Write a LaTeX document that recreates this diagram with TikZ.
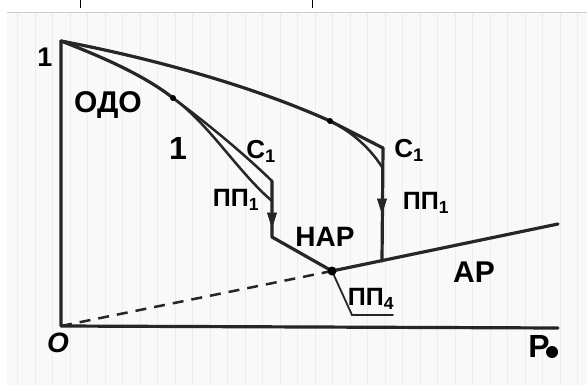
\documentclass[tikz,border=0pt]{standalone}
\usepackage{fontspec}
\setmainfont{Liberation Sans}
\usetikzlibrary{arrows.meta}
\tikzset{
  thickline/.style={line width=3.2pt, line cap=round, line join=round, black!85},
  midline/.style={line width=2.5pt, line cap=round, line join=round, black!85},
  thinline/.style={line width=1.8pt, line cap=round, black!85},
  lbl/.style={inner sep=0pt, font=\bfseries\fontsize{#1}{#1}\selectfont},
  lbl/.default=22,
  dot/.style={circle, fill=black, inner sep=0pt, minimum size=#1},
  tipfill/.style={fill=black!85, draw=black!85, line width=0.8pt, line join=round},
}
\begin{document}
\begin{tikzpicture}[x=1pt,y=-1pt]
\useasboundingbox (0,0) rectangle (587,385);
% background paper
\fill[white] (0,0) rectangle (587,385);
\fill[gray!5] (7,12) rectangle (587,385);
\draw[gray!14, line width=0.3pt] (7,12) grid[xstep=17.5, ystep=17.5] (587,385);
\draw[gray!40, line width=0.8pt] (7,12.5) -- (587,12.5);
% top ticks
\draw[line width=0.8pt] (80,0) -- (80,8);
\draw[line width=0.8pt] (312,0) -- (312,8);

% key points
\coordinate (O) at (61,326);
\coordinate (Y1) at (61,41);
\coordinate (Xend) at (558,328);
\coordinate (B) at (173,98);
\coordinate (C1L) at (272,181);
\coordinate (P1L) at (272,201);
\coordinate (AL) at (272,227);
\coordinate (KL) at (272,237);
\coordinate (U) at (330,121);
\coordinate (C1R) at (383,148);
\coordinate (P1R) at (382,167);
\coordinate (AR) at (382,213);
\coordinate (KR) at (382,261);
\coordinate (D) at (332,271);
\coordinate (Aend) at (558,224);
\coordinate (Q) at (352,315);
\coordinate (Qend) at (393,315);

% axes
\draw[thickline] (Y1) -- (O) -- (Xend);
% dashed
\draw[midline, dash pattern=on 11pt off 8pt, line cap=butt] (O) -- (D);
% upper curve
\draw[thickline] (Y1) .. controls (150,58) and (250,85) .. (U);
\draw[thickline] (U) -- (C1R);
\draw[midline] (U) .. controls (352,132) and (370,148) .. (P1R);
\draw[thickline] (C1R) -- (KR);
\fill[tipfill] (AR) -- ++(-4.5,-14) -- ++(9,0) -- cycle;
% lower curve
\draw[thickline] (Y1) .. controls (105,58) and (145,76) .. (B);
\draw[midline] (B) .. controls (212,127) and (245,155) .. (C1L);
\draw[midline] (B) .. controls (210,125) and (238,172) .. (P1L);
\draw[thickline] (C1L) -- (KL) -- (D);
\fill[tipfill] (AL) -- ++(-4.5,-14) -- ++(9,0) -- cycle;
% AP line
\draw[thickline] (D) -- (Aend);
% PP4 pointer
\draw[thinline] (D) -- (Q) -- (Qend);
% dots
\node[dot=6pt] (dB) at (B) {};
\node[dot=6pt] (dU) at (U) {};
\node[dot=9pt] (dD) at (D) {};

% labels
\node[lbl=27] (l1) at (45,57) {1};
\node[lbl=30] (lodo) at (108,105) {ОДО};
\node[lbl=32] (l1b) at (178,148) {1};
\node[lbl=26] (lc1l) at (261,151) {С\textsubscript{1}};
\node[lbl=25] (lp1l) at (236,200) {ПП\textsubscript{1}};
\node[lbl=26] (lc1r) at (409,150) {С\textsubscript{1}};
\node[lbl=25] (lp1r) at (426,203) {ПП\textsubscript{1}};
\node[lbl=28] (lnar) at (325,237) {НАР};
\node[lbl=30] (lar) at (474,272) {АР};
\node[lbl=25] (lp4) at (371,299) {ПП\textsubscript{4}};
\node[lbl=28, font=\bfseries\itshape\fontsize{28}{28}\selectfont] (lO) at (58,343) {O};
\node[lbl=32] (lP) at (539,346) {Р};
\node[dot=12pt] (lPdot) at (552,352) {};
\end{tikzpicture}
\end{document}
